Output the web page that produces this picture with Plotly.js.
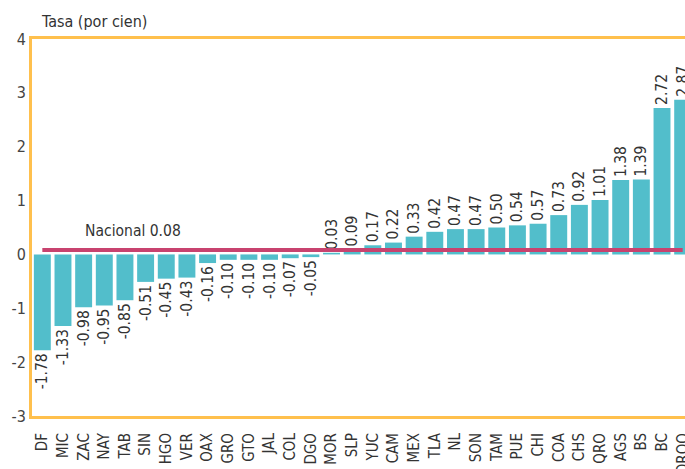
<!DOCTYPE html>
<html>
<head>
<meta charset="utf-8">
<script src="https://cdn.plot.ly/plotly-3.0.1.min.js"></script>
<style>
html,body{margin:0;padding:0;overflow:hidden;background:#fff;width:685px;height:469px;}
#chart{width:700px;height:469px;}
</style>
</head>
<body>
<div id="chart"></div>
<script>
const estados = ["DF","MIC","ZAC","NAY","TAB","SIN","HGO","VER","OAX","GRO","GTO","JAL","COL","DGO","MOR","SLP","YUC","CAM","MEX","TLA","NL","SON","TAM","PUE","CHI","COA","CHS","QRO","AGS","BS","BC","QROO"];
const tasas = [-1.78,-1.33,-0.98,-0.95,-0.85,-0.51,-0.45,-0.43,-0.16,-0.10,-0.10,-0.10,-0.07,-0.05,0.03,0.09,0.17,0.22,0.33,0.42,0.47,0.47,0.50,0.54,0.57,0.73,0.92,1.01,1.38,1.39,2.72,2.87];
const nacional = 0.08;
const yTicks = [4,3,2,1,0,-1,-2,-3];

const fontFam = "DejaVu Sans Condensed, DejaVu Sans, sans-serif";

const bars = {
  type: "bar",
  x: estados,
  y: tasas,
  marker: {color: "#52BECB"},
  text: tasas.map(v => v.toFixed(2)),
  textposition: "outside",
  textangle: -90,
  constraintext: "none",
  cliponaxis: false,
  textfont: {family: fontFam, size: 15.5, color: "#333"},
  hoverinfo: "x+y"
};

const linea = {
  type: "scatter",
  mode: "lines",
  x: [estados[0], estados[estados.length-1]],
  y: [nacional, nacional],
  line: {color: "#C8436F", width: 4},
  hoverinfo: "skip"
};

const layout = {
  width: 700,
  height: 469,
  margin: {l: 32, r: 7, t: 39, b: 53},
  paper_bgcolor: "#fff",
  plot_bgcolor: "#fff",
  showlegend: false,
  bargap: 0.18,
  font: {family: fontFam, color: "#333"},
  xaxis: {
    type: "category",
    range: [-0.5, estados.length - 0.5],
    tickangle: -90,
    tickfont: {family: fontFam, size: 15, color: "#333"},
    showline: true,
    linecolor: "#FFC04D",
    linewidth: 3,
    mirror: true,
    showgrid: false,
    zeroline: false,
    ticks: "outside",
    ticklen: 8,
    tickcolor: "rgba(0,0,0,0)"
  },
  yaxis: {
    range: [-3, 4],
    tickvals: yTicks,
    ticktext: yTicks.map(String),
    tickfont: {family: fontFam, size: 16, color: "#444"},
    showline: true,
    linecolor: "#FFC04D",
    linewidth: 3,
    mirror: true,
    showgrid: false,
    zeroline: false,
    ticks: ""
  },
  annotations: [
    {
      text: "Tasa (por cien)",
      xref: "paper", yref: "paper",
      x: 0, y: 1, xanchor: "left", yanchor: "bottom",
      xshift: 7, yshift: 6,
      showarrow: false,
      font: {family: fontFam, size: 16, color: "#333"}
    },
    {
      text: "Nacional " + nacional.toFixed(2),
      xref: "x", yref: "y",
      x: 4.4, y: nacional,
      yanchor: "bottom", yshift: 8,
      showarrow: false,
      font: {family: fontFam, size: 15.5, color: "#333"}
    }
  ]
};

Plotly.newPlot("chart", [bars, linea], layout, {displayModeBar: false, staticPlot: true});
</script>
</body>
</html>
